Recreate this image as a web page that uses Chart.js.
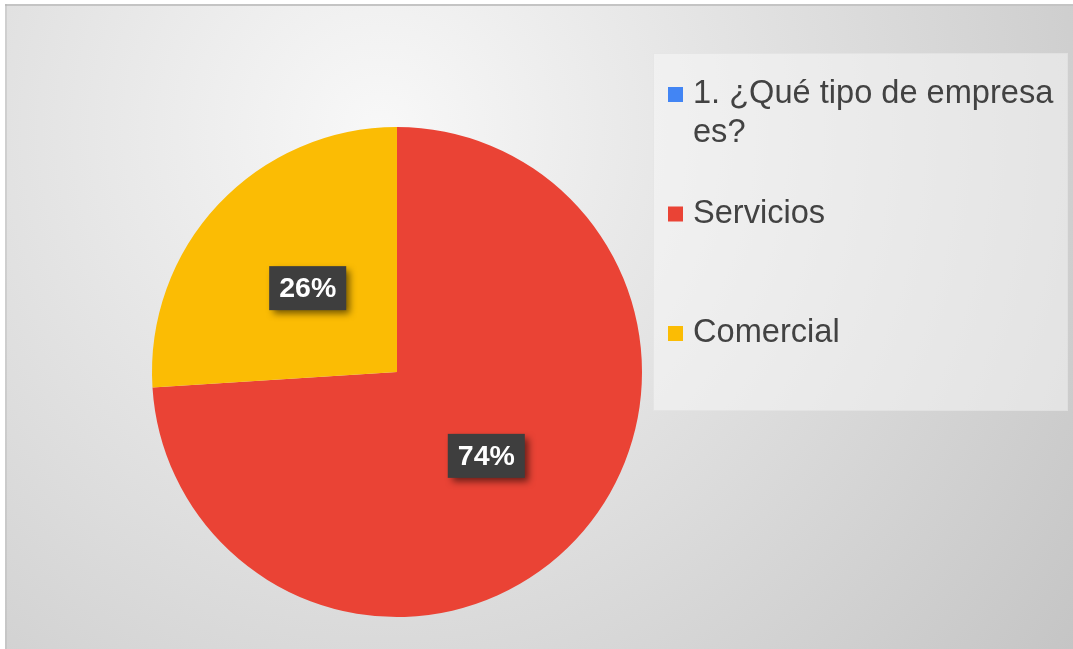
<!DOCTYPE html>
<html>
<head>
<meta charset="utf-8">
<script src="https://cdn.jsdelivr.net/npm/chart.js@4.4.1/dist/chart.umd.min.js"></script>
<style>
  html, body { margin: 0; padding: 0; background: #ffffff; }
  #wrap { width: 1073px; height: 649px; }
</style>
</head>
<body>
<div id="wrap"><canvas id="pieChart" width="1073" height="649"></canvas></div>
<script>
// data
const categories = ['1. ¿Qué tipo de empresa es?', 'Servicios', 'Comercial'];
const legendLines = [['1. ¿Qué tipo de empresa', 'es?'], ['Servicios'], ['Comercial']];
const shares = [0, 74, 26];
const sliceColors = ['#4285F4', '#EA4335', '#FBBC04'];

// gradient frame behind the chart
const backgroundPlugin = {
    id: 'frameBg',
    beforeDraw(chart) {
        const ctx = chart.ctx;
        ctx.save();
        const g = ctx.createRadialGradient(380, 130, 0, 380, 130, 900);
        g.addColorStop(0, '#f8f8f8');
        g.addColorStop(1, '#c3c3c3');
        ctx.fillStyle = g;
        ctx.fillRect(5, 4, 1068, 645);
        ctx.fillStyle = '#c4c4c4';
        ctx.fillRect(5, 4, 1068, 2);
        ctx.fillStyle = 'rgba(180,180,180,0.4)';
        ctx.fillRect(5, 4, 2, 645);
        ctx.restore();
    }
};

// legend panel on the right, drawn from labels + colours
const legendPlugin = {
    id: 'sideLegend',
    afterDraw(chart) {
        const ctx = chart.ctx;
        const colors = chart.data.datasets[0].backgroundColor;
        ctx.save();
        ctx.fillStyle = 'rgba(250,250,250,0.5)';
        ctx.fillRect(653, 53, 415, 358);
        ctx.strokeStyle = 'rgba(220,220,220,0.5)';
        ctx.lineWidth = 1;
        ctx.strokeRect(653.5, 53.5, 414, 357);

        ctx.font = '32.6px "Liberation Sans", Arial, sans-serif';
        ctx.textBaseline = 'alphabetic';
        let y = 103;
        legendLines.forEach((lines, i) => {
            ctx.fillStyle = colors[i];
            ctx.fillRect(668, y - 16, 15, 15);
            ctx.fillStyle = '#424242';
            lines.forEach((t, k) => ctx.fillText(t, 693, y + k * 38.5));
            y += 119.5;
        });
        ctx.restore();
    }
};

// dark percentage boxes in each slice
const labelPlugin = {
    id: 'pctLabels',
    afterDatasetsDraw(chart) {
        const ctx = chart.ctx;
        const meta = chart.getDatasetMeta(0);
        const ds = chart.data.datasets[0].data;
        const total = ds.reduce((a, b) => a + b, 0);
        ctx.save();
        ctx.font = 'bold 28.5px "Liberation Sans", Arial, sans-serif';
        ctx.textAlign = 'center';
        ctx.textBaseline = 'middle';
        meta.data.forEach((arc, i) => {
            if (!ds[i]) return;
            const p = arc.tooltipPosition();
            const txt = Math.round(ds[i] / total * 100) + '%';
            const w = ctx.measureText(txt).width + 20;
            const h = 44;
            ctx.save();
            ctx.shadowColor = 'rgba(0,0,0,0.55)';
            ctx.shadowBlur = 7;
            ctx.shadowOffsetX = 4;
            ctx.shadowOffsetY = 4;
            ctx.fillStyle = '#3e3e3e';
            ctx.fillRect(p.x - w / 2, p.y - h / 2, w, h);
            ctx.restore();
            ctx.fillStyle = '#ffffff';
            ctx.fillText(txt, p.x, p.y + 1);
        });
        ctx.restore();
    }
};

new Chart(document.getElementById('pieChart').getContext('2d'), {
    type: 'pie',
    data: {
        labels: categories,
        datasets: [{
            data: shares,
            backgroundColor: sliceColors,
            borderWidth: 0
        }]
    },
    options: {
        responsive: false,
        animation: false,
        devicePixelRatio: 1,
        layout: { padding: { left: 152, right: 431, top: 127, bottom: 32 } },
        plugins: {
            legend: { display: false },
            tooltip: { enabled: false }
        }
    },
    plugins: [backgroundPlugin, labelPlugin, legendPlugin]
});
</script>
</body>
</html>
